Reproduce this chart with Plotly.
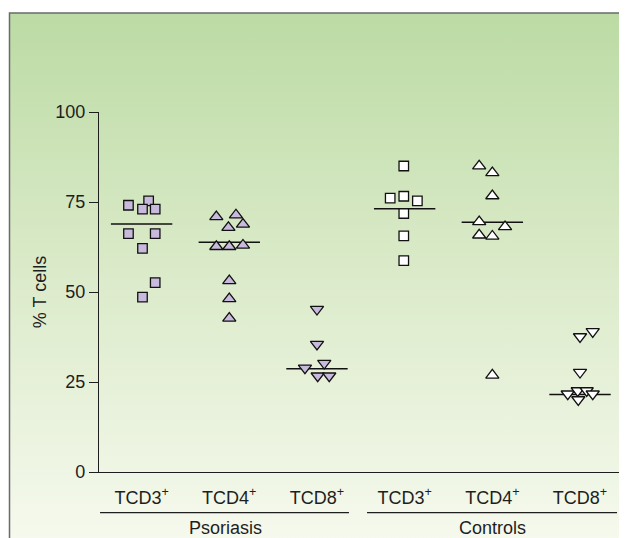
import base64
import plotly.graph_objects as go

# ---------------- data ----------------
categories = ["TCD3<sup>+</sup>", "TCD4<sup>+</sup>", "TCD8<sup>+</sup>",
              "TCD3<sup>+</sup>", "TCD4<sup>+</sup>", "TCD8<sup>+</sup>"]
groups = ["Psoriasis", "Controls"]

psoriasis_cd3 = [74.1, 75.3, 73.0, 73.0, 66.2, 66.2, 62.1, 52.6, 48.6]
psoriasis_cd3_jitter = [-0.15, 0.08, 0.01, 0.155, -0.15, 0.155, 0.01, 0.155, 0.01]
psoriasis_cd4 = [70.9, 71.4, 67.9, 68.8, 62.6, 62.6, 63.0, 53.1, 48.1, 42.7]
psoriasis_cd4_jitter = [-0.148, 0.076, -0.01, 0.156, -0.148, 0.0, 0.156, 0.0, 0.0, 0.0]
psoriasis_cd8 = [45.2, 35.5, 28.9, 30.2, 26.7, 26.7]
psoriasis_cd8_jitter = [0.0, 0.0, -0.137, 0.083, 0.008, 0.14]

controls_cd3 = [85.0, 76.1, 76.6, 75.3, 71.8, 65.6, 58.7]
controls_cd3_jitter = [-0.01, -0.165, -0.01, 0.145, -0.01, -0.01, -0.01]
controls_cd4 = [85.0, 83.1, 76.7, 69.5, 68.1, 65.8, 65.5, 26.9]
controls_cd4_jitter = [-0.15, 0.0, 0.0, -0.15, 0.145, -0.15, 0.0, 0.0]
controls_cd8 = [37.6, 39.0, 27.7, 21.7, 22.6, 22.6, 21.7, 20.1]
controls_cd8_jitter = [0.0, 0.145, 0.0, -0.14, -0.026, 0.076, 0.145, -0.02]

medians = [68.9, 63.8, 28.7, 73.1, 69.4, 21.5]

y_ticks = [0, 25, 50, 75, 100]

# ---------------- styling ----------------
PURPLE = "#c8badc"
FONT = "Liberation Sans, Arial, sans-serif"
TXT = "#1e1e1e"
FS = 18

series = [
    (psoriasis_cd3, psoriasis_cd3_jitter, "square", PURPLE, 9.5),
    (psoriasis_cd4, psoriasis_cd4_jitter, "triangle-up", PURPLE, 11.5),
    (psoriasis_cd8, psoriasis_cd8_jitter, "triangle-down", PURPLE, 11.5),
    (controls_cd3, controls_cd3_jitter, "square", "white", 9.5),
    (controls_cd4, controls_cd4_jitter, "triangle-up", "white", 11.5),
    (controls_cd8, controls_cd8_jitter, "triangle-down", "white", 11.5),
]

fig = go.Figure()

# median lines
for i, m in enumerate(medians):
    fig.add_trace(go.Scatter(
        x=[i - 0.35, i + 0.35], y=[m, m], mode="lines",
        line=dict(color="#111111", width=1.5), showlegend=False, hoverinfo="skip"))

for i, (vals, jit, sym, fill, size) in enumerate(series):
    fig.add_trace(go.Scatter(
        x=[i + j for j in jit], y=vals, mode="markers",
        marker=dict(symbol=sym, size=size, color=fill,
                    line=dict(color="#111111", width=1.3)),
        showlegend=False))

# ---------------- layout geometry ----------------
W, H = 619, 538
L, R, T, B = 91, 2, 104, 74
pw, ph = W - L - R, H - T - B
OFF = 8  # page offset of the figure (body margin)

def px_x(p):
    return (p - OFF - L) / pw

def px_y(p):
    return (H - B - (p - OFF)) / ph

# ---------------- background gradient ----------------
svg = ('<svg xmlns="http://www.w3.org/2000/svg" width="100" height="100" preserveAspectRatio="none">'
       '<defs><linearGradient id="g" x1="0" y1="0" x2="0" y2="1">'
       '<stop offset="0" stop-color="#bcdba4"/>'
       '<stop offset="0.5" stop-color="#dcebcb"/>'
       '<stop offset="1" stop-color="#f7faef"/>'
       '</linearGradient></defs>'
       '<rect width="100" height="100" fill="url(#g)"/></svg>')
src = "data:image/svg+xml;base64," + base64.b64encode(svg.encode()).decode()

frame_x0, frame_y0 = 9.5, 13.0
frame_x1, frame_y1 = W + OFF + 5, H + OFF + 5
fig.add_layout_image(dict(
    source=src, xref="paper", yref="paper",
    x=px_x(frame_x0), y=px_y(frame_y0),
    sizex=px_x(frame_x1) - px_x(frame_x0), sizey=px_y(frame_y0) - px_y(frame_y1),
    xanchor="left", yanchor="top", sizing="stretch", layer="below"))

shapes = [dict(type="rect", xref="paper", yref="paper",
               x0=px_x(frame_x0), y0=px_y(frame_y0), x1=px_x(frame_x1), y1=px_y(frame_y1),
               line=dict(color="#6a6a6a", width=1.5), fillcolor="rgba(0,0,0,0)")]

# group underline brackets
group_spans = [(-0.474, 2.365), (2.571, 5.422)]
group_centers = [0.953, 4.0]
for (a, b) in group_spans:
    shapes.append(dict(type="line", xref="x", yref="paper", x0=a, x1=b,
                       y0=px_y(512.7), y1=px_y(512.7),
                       line=dict(color="#1e1e1e", width=1.3)))

annotations = []
for g, c in zip(groups, group_centers):
    annotations.append(dict(text=g, x=c, xref="x", y=px_y(528), yref="paper",
                            showarrow=False, xanchor="center", yanchor="middle",
                            font=dict(family=FONT, size=FS, color=TXT)))

fig.update_layout(
    width=W, height=H,
    margin=dict(l=L, r=R, t=T, b=B, pad=0),
    paper_bgcolor="white", plot_bgcolor="rgba(0,0,0,0)",
    font=dict(family=FONT, size=FS, color=TXT),
    shapes=shapes, annotations=annotations,
    xaxis=dict(range=[-0.486, 5.513], tickvals=list(range(6)), ticktext=categories,
               showgrid=False, zeroline=False, showline=True, linecolor="#1e1e1e",
               linewidth=1.3, ticks="", tickfont=dict(family=FONT, size=FS, color=TXT),
               ticklabelstandoff=9, fixedrange=True),
    yaxis=dict(range=[0, 100], tickvals=y_ticks, showgrid=False, zeroline=False,
               showline=True, linecolor="#1e1e1e", linewidth=1.3,
               ticks="outside", ticklen=9, tickwidth=1.3, tickcolor="#1e1e1e",
               tickfont=dict(family=FONT, size=FS, color=TXT),
               title=dict(text="% T cells", font=dict(family=FONT, size=FS, color=TXT),
                          standoff=3)),
)

fig.write_html("out.html")
